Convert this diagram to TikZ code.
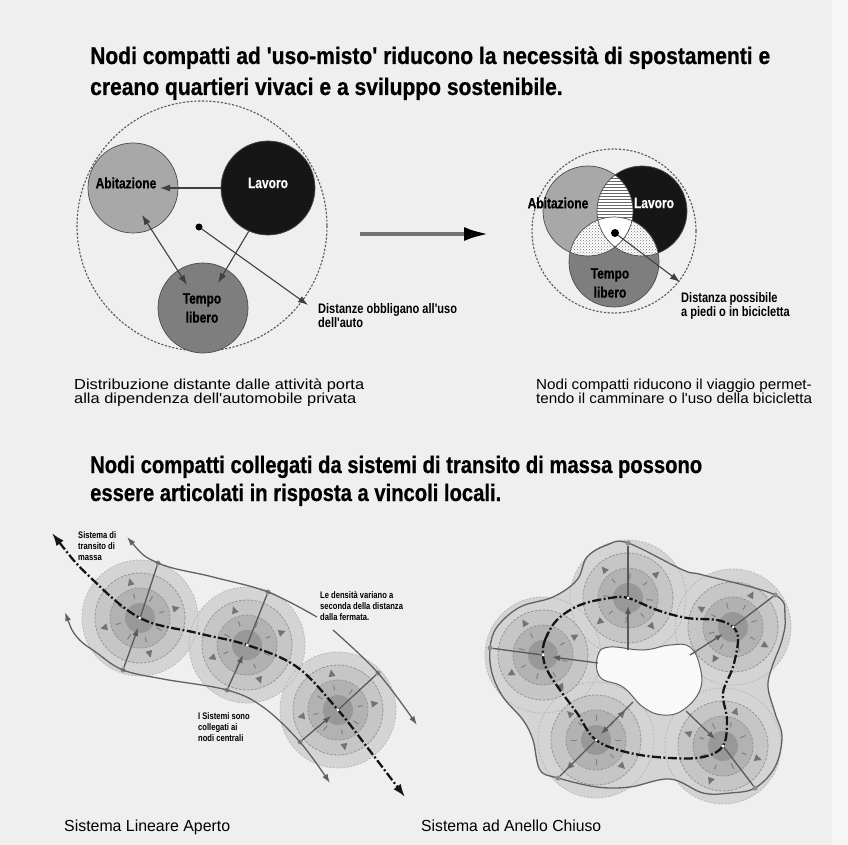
\documentclass[tikz,border=0pt]{standalone}
\usepackage{fontspec}
\usepackage{graphicx}
\setmainfont{Liberation Sans}
\newfontfamily\cnd[FakeStretch=0.8]{Liberation Sans}
\newfontfamily\hfont[FakeStretch=0.8, BoldFeatures={FakeBold=0.6}]{Liberation Sans}
\usetikzlibrary{arrows.meta,patterns,calc}
\definecolor{bgc}{HTML}{EFEFEF}
\definecolor{bgr}{HTML}{F6F6F6}
\definecolor{abc}{HTML}{A8A8A8}
\definecolor{lvc}{HTML}{161616}
\definecolor{tlc}{HTML}{7E7E7E}
\definecolor{ra}{HTML}{D4D4D4}
\definecolor{rb}{HTML}{C6C6C6}
\definecolor{rc}{HTML}{B2B2B2}
\definecolor{rd}{HTML}{989898}
\newcommand\fitw[2]{\resizebox{#1}{\height}{#2}}
\begin{document}
\begin{tikzpicture}[x=1pt,y=-1pt,
  dashcirc/.style={draw=black!65, line width=1.1pt, dash pattern=on 2.2pt off 1.6pt},
  bub/.style={circle, inner sep=0pt, minimum size=#1, draw=black!70, line width=0.7pt},
  lbl/.style={font=\hfont\bfseries\fontsize{15}{19}\selectfont, inner sep=0pt, align=center},
  con/.style={draw=black!75, line width=1.1pt, -{Latex[length=10pt,width=7pt]}},
  small/.style={font=\cnd\bfseries\fontsize{9.5}{11}\selectfont, inner sep=0pt, align=left, anchor=north west},
  note/.style={font=\cnd\bfseries\fontsize{13.8}{14.5}\selectfont, inner sep=0pt, align=left, anchor=north west},
  side/.style={draw=black!62, line width=1.3pt},
  sidetip/.style={-{Latex[length=9pt,width=6pt]}},
  tran/.style={draw=black!92, line width=2.3pt, dash pattern=on 9pt off 2.5pt on 2pt off 2.5pt},
  spoke/.style={draw=black!65, line width=1.3pt},
  spokea/.style={spoke, -{Latex[length=8pt,width=6pt]}},
  r1d/.style={draw=black!28, line width=0.8pt, dash pattern=on 2pt off 1.5pt},
  r2d/.style={draw=black!42, line width=0.8pt, dash pattern=on 2.5pt off 1.5pt},
  trif/.style={fill=black!55},
  tickd/.style={draw=black!50, line width=1pt},
  jdot/.style={circle, fill=black!45, inner sep=0pt, minimum size=5pt},
  cdot/.style={circle, fill=white, inner sep=0pt, minimum size=3pt}
]
\useasboundingbox (0,0) rectangle (848,845);
\fill[bgc] (0,0) rectangle (848,845);
\fill[bgr] (832,0) rectangle (848,845);

% ---------- headings ----------
\node[anchor=base west, inner sep=0pt] (h1) at (90,64) {\fitw{680pt}{\hfont\bfseries\fontsize{24}{31}\selectfont\begin{tabular}[t]{@{}l@{}}Nodi compatti ad 'uso-misto' riducono la necessità di spostamenti e\\creano quartieri vivaci e a sviluppo sostenibile.\end{tabular}}};
\node[anchor=base west, inner sep=0pt] (h2) at (90,473) {\fitw{612pt}{\hfont\bfseries\fontsize{24}{28}\selectfont\begin{tabular}[t]{@{}l@{}}Nodi compatti collegati da sistemi di transito di massa possono\\essere articolati in risposta a vincoli locali.\end{tabular}}};

% ---------- top left ----------
\draw[dashcirc] (202,226) circle[radius=125];
\node[bub=90, fill=abc] (ab) at (133,188) {};
\node[bub=94, fill=lvc] (lav) at (268,188) {};
\node[bub=90, fill=tlc] (tl) at (203,308) {};
\node[lbl] (abt) at (126,183) {Abitazione};
\node[lbl, text=white] (lavt) at (268,183) {Lavoro};
\node[lbl] (tlt) at (202,308) {Tempo\\libero};
\coordinate (abin) at (160,188);
\draw[con] (lav.west) -- (abin);
\coordinate (a1) at (142,215);
\coordinate (t1) at (187,285);
\draw[con, {Latex[length=10pt,width=7pt]}-{Latex[length=10pt,width=7pt]}] (a1) -- (t1);
\coordinate (t2) at (218,283);
\draw[con] (lav.246) -- (t2);
\node[circle, fill=black, inner sep=0pt, minimum size=7pt] (dot1) at (199,227) {};
\coordinate (tipd1) at (308,305);
\draw[con] (dot1) -- (tipd1);
\node[note] (n1) at (318,303) {Distanze obbligano all'uso\\dell'auto};

% ---------- middle arrow ----------
\coordinate (ma) at (360,234);
\coordinate (mb) at (489,234);
\draw[line width=4pt, draw=black!55, -{Latex[length=25pt,width=14pt,color=black]}] (ma) -- (mb);

% ---------- Venn ----------
\draw[dashcirc] (614,231) circle[radius=82];
\node[bub=90, fill=abc, draw=none] (ab2) at (588,211) {};
\node[bub=90, fill=lvc, draw=none] (lv2) at (642,211) {};
\node[bub=90, fill=tlc, draw=none] (tl2) at (614,262) {};
\begin{scope}
  \clip (ab2) circle[radius=45];
  \fill[white] (lv2) circle[radius=45];
  \fill[pattern=horizontal lines, pattern color=black!60] (lv2) circle[radius=45];
\end{scope}
\begin{scope}
  \clip (ab2) circle[radius=45];
  \fill[white] (tl2) circle[radius=45];
  \fill[pattern=crosshatch dots, pattern color=black!55] (tl2) circle[radius=45];
\end{scope}
\begin{scope}
  \clip (lv2) circle[radius=45];
  \fill[white] (tl2) circle[radius=45];
  \fill[pattern=crosshatch dots, pattern color=black!55] (tl2) circle[radius=45];
\end{scope}
\begin{scope}
  \clip (ab2) circle[radius=45];
  \clip (lv2) circle[radius=45];
  \fill[white] (tl2) circle[radius=45];
\end{scope}
\foreach \c in {ab2,lv2,tl2} \draw[draw=black!70, line width=0.7pt] (\c) circle[radius=45];
\node[lbl] (ab2t) at (558,203) {Abitazione};
\node[lbl, text=white] (lv2t) at (654,203) {Lavoro};
\node[lbl] (tl2t) at (610,283) {Tempo\\libero};
\node[circle, fill=black, inner sep=0pt, minimum size=8pt] (dot2) at (615,233) {};
\coordinate (tipd2) at (680,282);
\draw[con] (dot2) -- (tipd2);
\node[note] (n2) at (681,292) {Distanza possibile\\a piedi o in bicicletta};

% ---------- captions ----------
\node[anchor=base west, inner sep=0pt] (capl) at (74,389) {\fitw{290pt}{\cnd\fontsize{14.5}{12.5}\selectfont\begin{tabular}[t]{@{}l@{}}Distribuzione distante dalle attività porta\\alla dipendenza dell'automobile privata\end{tabular}}};
\node[anchor=base west, inner sep=0pt] (capr) at (536,389) {\fitw{276pt}{\cnd\fontsize{14.5}{12.5}\selectfont\begin{tabular}[t]{@{}l@{}}Nodi compatti riducono il viaggio permet-\\tendo il camminare o l'uso della bicicletta\end{tabular}}};
\node[anchor=base west, inner sep=0pt] (capbl) at (64,831) {\fitw{166pt}{\fontsize{16}{18}\selectfont Sistema Lineare Aperto}};
\node[anchor=base west, inner sep=0pt] (capbr) at (421,831) {\fitw{180pt}{\fontsize{16}{18}\selectfont Sistema ad Anello Chiuso}};

% ---------- cluster centres ----------
\coordinate (L1) at (140,618);
\coordinate (L2) at (247,645);
\coordinate (L3) at (338,710);
\coordinate (RA) at (628,598);
\coordinate (RB) at (733,627);
\coordinate (RC) at (543,655);
\coordinate (RD) at (596,740);
\coordinate (RE) at (723,746);

\fill[ra] plot[smooth cycle, tension=0.6] coordinates {(628,543) (683,570) (703,575) (775,595) (785,617) (782,640) (772,667) (768,687) (775,713) (782,737) (775,767) (755,788) (730,793) (703,793) (670,779) (630,787) (597,787) (558,778) (540,770) (533,740) (523,720) (503,697) (492,673) (490,648) (497,627) (520,607) (553,597) (577,580) (587,557) (607,545)};

\foreach \c in {L1,L2,L3,RA,RB,RC,RD,RE} \fill[ra] (\c) circle[radius=58];
\foreach \c in {L1,L2,L3,RA,RB,RC,RD,RE} \draw[r1d] (\c) circle[radius=58];
\foreach \c in {L1,L2,L3,RA,RB,RC,RD,RE} {\fill[rb] (\c) circle[radius=45]; \draw[r2d] (\c) circle[radius=45];}
\foreach \c in {L1,L2,L3,RA,RB,RC,RD,RE} {\fill[rc] (\c) circle[radius=30]; \draw[r2d] (\c) circle[radius=30];}
\foreach \c in {L1,L2,L3,RA,RB,RC,RD,RE} \fill[rd] (\c) circle[radius=15];
\foreach \c/\t in {L1/15,L2/20,L3/10,RA/40,RB/-30,RC/30,RD/45,RE/-20}{
  \begin{scope}[shift={(\c)},rotate=\t]
    \foreach \a in {0,90,180,270}{
      \fill[trif,rotate=\a] (41,0) -- (34,3.5) -- (34,-3.5) -- cycle;
      \draw[tickd,rotate=\a+45] (19,0) -- (25,0);
      \draw[tickd,rotate=\a] (20,0) -- (25,0);
    }
  \end{scope}}

% hole
\filldraw[fill=white!60!bgc, draw=black!62, line width=1pt] plot[smooth cycle, tension=0.7] coordinates {(598,655) (610,647) (643,650) (670,645) (690,647) (700,667) (700,690) (683,710) (663,715) (643,707) (623,687) (600,677)};

% ---------- lower left lines ----------
\coordinate (us0) at (127,537);
\node[jdot] (uj1) at (158,563) {};
\node[jdot] (uj2) at (268,592) {};
\coordinate (us1) at (317,617);
\coordinate (us2) at (333,630);
\node[jdot] (uj3) at (378,673) {};
\coordinate (us3) at (417,725);
\draw[side, {Latex[length=9pt,width=6pt]}-] plot[smooth, tension=0.6] coordinates {(us0) (158,563) (213,577) (268,592) (317,617)};
\draw[side, sidetip] plot[smooth, tension=0.6] coordinates {(us2) (378,673) (417,725)};
\coordinate (ls0) at (65,612);
\node[jdot] (lj1) at (123,670) {};
\node[jdot] (lj2) at (227,690) {};
\node[jdot] (lj3) at (300,742) {};
\coordinate (ls1) at (330,783);
\draw[side, {Latex[length=9pt,width=6pt]}-{Latex[length=9pt,width=6pt]}] plot[smooth, tension=0.6] coordinates {(ls0) (77,637) (97,653) (123,670) (163,679) (227,690) (263,707) (300,742) (ls1)};
\draw[spoke] (uj1) -- (L1);
\draw[spoke] (uj2) -- (L2);
\draw[spoke] (uj3) -- (L3);
\coordinate (L1t) at (138,628);
\coordinate (L2t) at (243,655);
\coordinate (L3t) at (331,716);
\draw[spokea] (lj1) -- (L1t);
\draw[spokea] (lj2) -- (L2t);
\draw[spokea] (lj3) -- (L3t);
\coordinate (ts0) at (52,533);
\coordinate (ts1) at (405,797);
\draw[tran, {Latex[length=13pt,width=9pt]}-{Latex[length=13pt,width=9pt]}] plot[smooth, tension=0.6] coordinates {(ts0) (90,577) (L1) (197,633) (L2) (297,667) (L3) (367,747) (ts1)};
\foreach \c in {L1,L2,L3} \node[cdot] at (\c) {};

% ---------- lower right lines ----------
\draw[side] plot[smooth cycle, tension=0.6] coordinates {(628,543) (683,570) (703,575) (775,595) (785,617) (782,640) (772,667) (768,687) (775,713) (782,737) (775,767) (755,788) (730,793) (703,793) (670,779) (630,787) (597,787) (558,778) (540,770) (533,740) (523,720) (503,697) (492,673) (490,648) (497,627) (520,607) (553,597) (577,580) (587,557) (607,545)};
\node[jdot] (oA) at (628,543) {};
\node[jdot] (oB) at (775,595) {};
\node[jdot] (oC) at (490,648) {};
\node[jdot] (oD) at (558,778) {};
\node[jdot] (oE) at (755,788) {};
\draw[spoke] (oA) -- (RA);
\draw[spoke] (oB) -- (RB);
\draw[spoke] (oC) -- (RC);
\draw[spoke] (oD) -- (RD);
\draw[spoke] (oE) -- (RE);
\coordinate (hA) at (628,650); \coordinate (tA) at (628,606);
\coordinate (hB) at (690,655); \coordinate (tB) at (723,634);
\coordinate (hC) at (598,663); \coordinate (tC) at (552,657);
\coordinate (hD) at (633,702); \coordinate (tD) at (601,734);
\coordinate (hE) at (686,711); \coordinate (tE) at (715,739);
\draw[spokea] (hA) -- (tA);
\draw[spokea] (hB) -- (tB);
\draw[spokea] (hC) -- (tC);
\draw[spokea] (hD) -- (tD);
\draw[spokea] (hE) -- (tE);
\draw[tran] plot[smooth cycle, tension=0.6] coordinates {(RC) (545,640) (557,620) (580,605) (610,598) (RA) (657,610) (687,618) (717,620) (RB) (738,640) (733,667) (723,693) (727,720) (RE) (703,757) (670,758) (630,753) (RD) (577,713) (560,690) (547,670)};
\foreach \c in {RA,RB,RC,RD,RE} \node[cdot] at (\c) {};

% ---------- small labels ----------
\node[small] (s1) at (78,531) {Sistema di\\transito di\\massa};
\node[small] (s2) at (320,591) {Le densità variano a\\seconda della distanza\\dalla fermata.};
\node[small] (s3) at (198,712) {I Sistemi sono\\collegati ai\\nodi centrali};
\end{tikzpicture}
\end{document}
